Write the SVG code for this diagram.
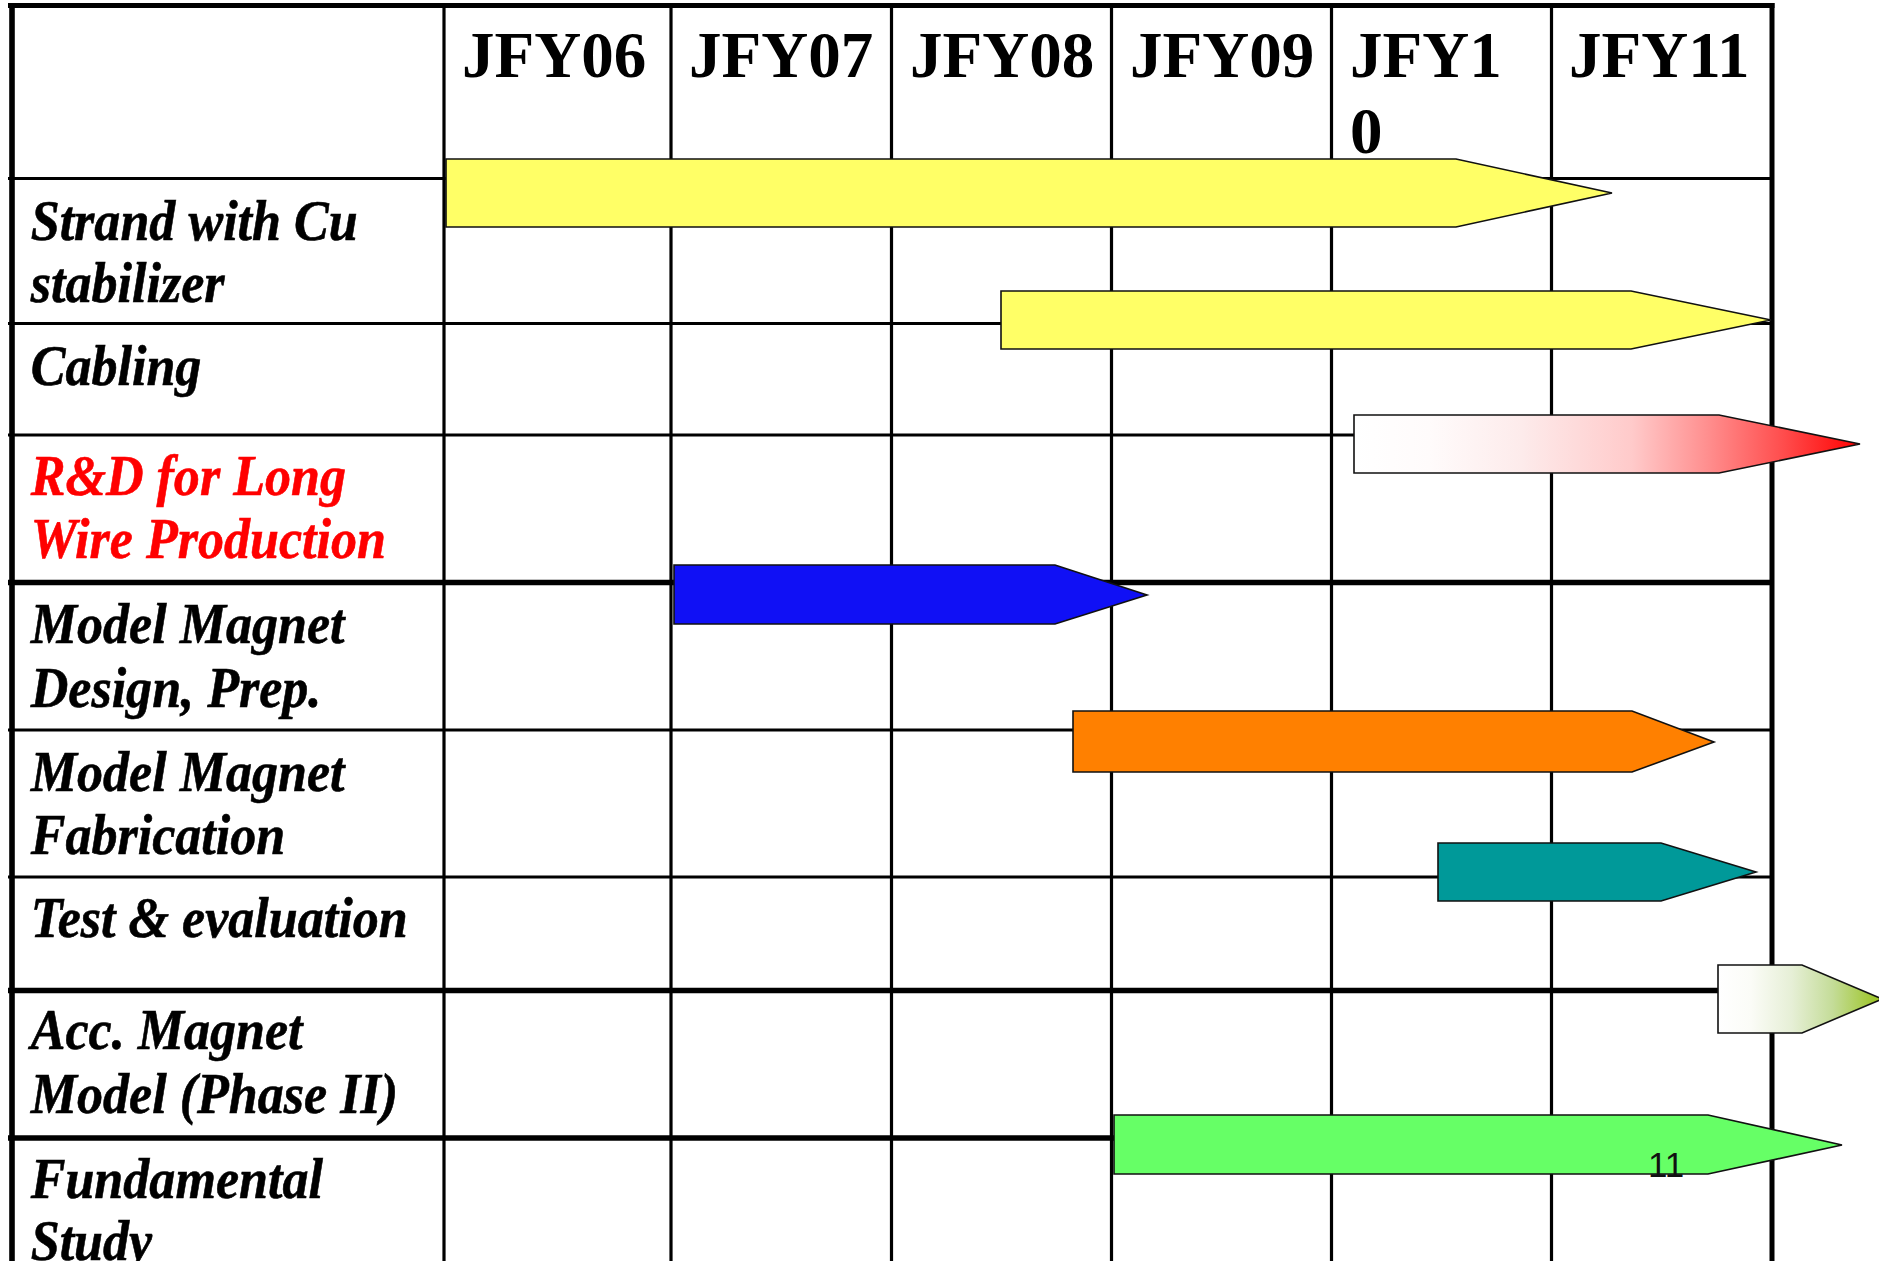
<svg xmlns="http://www.w3.org/2000/svg" width="1879" height="1261" viewBox="0 0 1879 1261">
  <defs>
    <linearGradient id="gradRed" x1="0" y1="0" x2="1" y2="0">
      <stop offset="0" stop-color="#ffffff"/>
      <stop offset="0.15" stop-color="#fffbfb"/>
      <stop offset="0.33" stop-color="#fdebeb"/>
      <stop offset="0.55" stop-color="#ffcaca"/>
      <stop offset="0.7" stop-color="#ff8e8e"/>
      <stop offset="0.85" stop-color="#ff4c4c"/>
      <stop offset="1" stop-color="#ff0000"/>
    </linearGradient>
    <linearGradient id="gradGreen" x1="0" y1="0" x2="1" y2="0">
      <stop offset="0" stop-color="#ffffff"/>
      <stop offset="0.2" stop-color="#fbfcf7"/>
      <stop offset="0.45" stop-color="#e6efd6"/>
      <stop offset="0.7" stop-color="#c4dc98"/>
      <stop offset="1" stop-color="#98c21a"/>
    </linearGradient>
  </defs>
  <style>
    .grid line { stroke: #000; }
    .thin { stroke-width: 3.2; }
    .thick { stroke-width: 5.6; }
    .year { font-family: "Liberation Serif", "Times New Roman", serif; font-weight: bold; font-size: 65px; fill: #000; }
    .task { font-family: "Liberation Serif", "Times New Roman", serif; font-weight: bold; font-style: italic; font-size: 56px; fill: #000; stroke: #000; stroke-width: 0.6; }
    .task.red { fill: #ff0000; stroke: #ff0000; }
    .bar { stroke: #111; stroke-width: 1.6; stroke-linejoin: miter; }
    .pageno { font-family: "Liberation Sans", Arial, sans-serif; font-size: 35px; fill: #111; }
  </style>
  <rect width="1879" height="1261" fill="#ffffff"/>

  <!-- table grid -->
  <g id="grid" class="grid">
    <line class="thin" x1="444" y1="5" x2="444" y2="1261"/>
    <line class="thin" x1="671" y1="5" x2="671" y2="1261"/>
    <line class="thin" x1="891.5" y1="5" x2="891.5" y2="1261"/>
    <line class="thin" x1="1111.5" y1="5" x2="1111.5" y2="1261"/>
    <line class="thin" x1="1331.5" y1="5" x2="1331.5" y2="1261"/>
    <line class="thin" x1="1551.5" y1="5" x2="1551.5" y2="1261"/>

    <line class="thin" x1="8" y1="178.5" x2="1772" y2="178.5"/>
    <line class="thin" x1="8" y1="323.5" x2="1772" y2="323.5"/>
    <line class="thin" x1="8" y1="435" x2="1772" y2="435"/>
    <line class="thick" x1="8" y1="582.5" x2="1772" y2="582.5"/>
    <line class="thin" x1="8" y1="730" x2="1772" y2="730"/>
    <line class="thin" x1="8" y1="877" x2="1772" y2="877"/>
    <line class="thick" x1="8" y1="990.5" x2="1772" y2="990.5"/>
    <line class="thick" x1="8" y1="1138" x2="1772" y2="1138"/>

    <line x1="8" y1="5.5" x2="1774.5" y2="5.5" stroke-width="5"/>
    <line x1="12" y1="3" x2="12" y2="1261" stroke-width="5.6"/>
    <line x1="1772" y1="3" x2="1772" y2="1261" stroke-width="5"/>
  </g>

  <!-- fiscal year headers -->
  <g id="years">
    <text class="year" x="462" y="77">JFY06</text>
    <text class="year" x="689" y="77">JFY07</text>
    <text class="year" x="910" y="77">JFY08</text>
    <text class="year" x="1130" y="77">JFY09</text>
    <text class="year" x="1350" y="77">JFY1</text>
    <text class="year" x="1350" y="153">0</text>
    <text class="year" x="1569" y="77">JFY11</text>
  </g>

  <!-- task labels (slightly condensed) -->
  <g id="tasks" transform="scale(0.93 1)">
    <g id="task-strand">
      <text class="task" x="33" y="240">Strand with Cu</text>
      <text class="task" x="33" y="302">stabilizer</text>
    </g>
    <g id="task-cabling">
      <text class="task" x="33" y="385">Cabling</text>
    </g>
    <g id="task-longwire">
      <text class="task red" x="33" y="495">R&amp;D for Long</text>
      <text class="task red" x="33" y="558">Wire Production</text>
    </g>
    <g id="task-design">
      <text class="task" x="33" y="643">Model Magnet</text>
      <text class="task" x="33" y="707">Design, Prep.</text>
    </g>
    <g id="task-fabrication">
      <text class="task" x="33" y="791">Model Magnet</text>
      <text class="task" x="33" y="854">Fabrication</text>
    </g>
    <g id="task-test">
      <text class="task" x="33" y="937">Test &amp; evaluation</text>
    </g>
    <g id="task-acc">
      <text class="task" x="33" y="1049">Acc. Magnet</text>
      <text class="task" x="33" y="1113">Model (Phase II)</text>
    </g>
    <g id="task-fundamental">
      <text class="task" x="33" y="1198">Fundamental</text>
      <text class="task" x="33" y="1260">Study</text>
    </g>
  </g>

  <!-- schedule bars -->
  <g id="bars">
    <g id="bar-strand">
      <polygon class="bar" fill="#ffff66" points="446,159 1456,159 1612,193 1456,227 446,227"/>
    </g>
    <g id="bar-cabling">
      <polygon class="bar" fill="#ffff66" points="1001,291 1631,291 1771,320 1631,349 1001,349"/>
    </g>
    <g id="bar-longwire">
      <polygon class="bar" fill="url(#gradRed)" points="1354,415 1719,415 1860,444 1719,473 1354,473"/>
    </g>
    <g id="bar-design">
      <polygon class="bar" fill="#1010f5" points="674,565 1055,565 1147,595 1055,624 674,624"/>
    </g>
    <g id="bar-fabrication">
      <polygon class="bar" fill="#ff8000" points="1073,711 1632,711 1714,742 1632,772 1073,772"/>
    </g>
    <g id="bar-test">
      <polygon class="bar" fill="#009999" points="1438,843 1661,843 1756,872 1661,901 1438,901"/>
    </g>
    <g id="bar-acc">
      <polygon class="bar" fill="url(#gradGreen)" points="1718,965 1802,965 1882,999 1802,1033 1718,1033"/>
    </g>
    <g id="bar-fundamental">
      <polygon class="bar" fill="#66ff66" points="1114,1115 1708,1115 1842,1145 1708,1174 1114,1174"/>
    </g>
  </g>

  <text class="pageno" x="1648" y="1177">11</text>
</svg>
